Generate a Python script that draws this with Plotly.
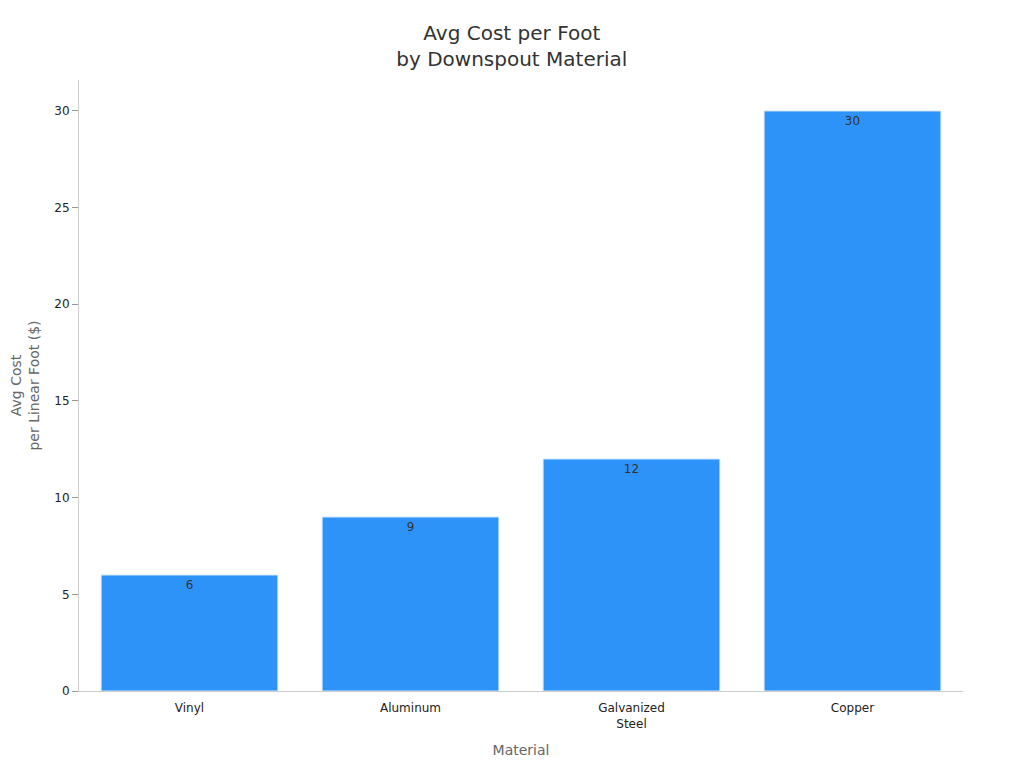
import plotly.graph_objects as go

materials = ["Vinyl", "Aluminum", "Galvanized<br>Steel", "Copper"]
costs = [6, 9, 12, 30]

fig = go.Figure(go.Bar(
    x=materials, y=costs, text=costs, textposition="inside",
    insidetextanchor="end", textfont=dict(size=12, color="#333"),
    marker=dict(color="#2e93f9", line=dict(color="#d8e8f8", width=1)),
))
fig.update_layout(
    width=1024, height=768,
    margin=dict(l=71, r=69, t=72, b=85, autoexpand=False),
    paper_bgcolor="white", plot_bgcolor="white",
    font=dict(family="DejaVu Sans", size=12, color="#333"),
    title=dict(text="Avg Cost per Foot<br>by Downspout Material", x=0.492, xanchor="center",
               y=0.958, yanchor="top", font=dict(size=20, color="#333")),
    bargap=0.2, showlegend=False,
    xaxis=dict(title=dict(text="Material", font=dict(size=14, color="#666"), standoff=15),
               automargin=False, ticklabelstandoff=6,
               showline=True, linecolor="#ccc", ticks="", tickfont=dict(size=12, color="#222")),
    yaxis=dict(title=dict(text="Avg Cost<br>per Linear Foot ($)", font=dict(size=14, color="#666")),
               automargin=False,
               range=[0, 31.6], dtick=5, showgrid=False, showline=True, linecolor="#ccc",
               ticks="outside", tickcolor="#999", ticklen=6, tickfont=dict(size=12, color="#222"),
               zeroline=False),
)
fig.write_html("out.html")
